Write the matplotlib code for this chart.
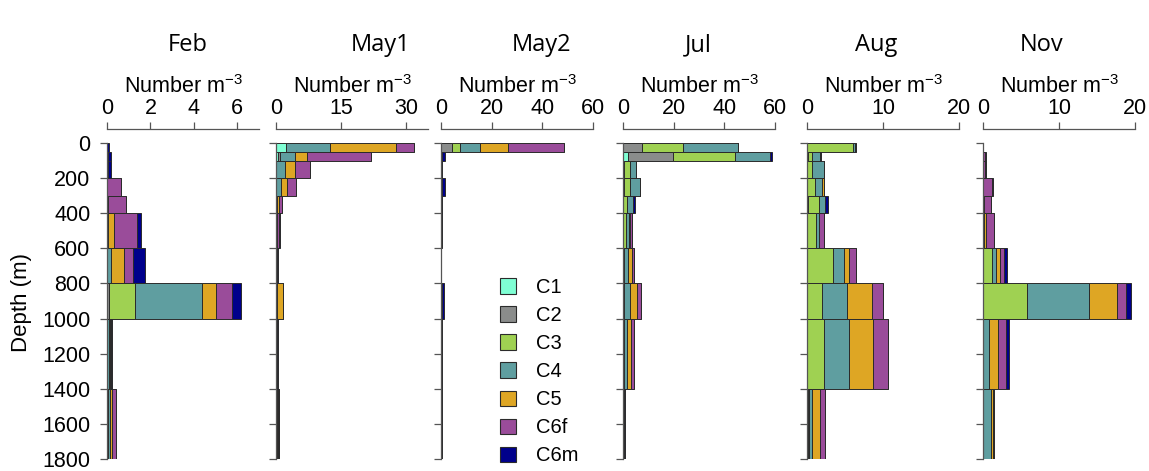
import matplotlib.pyplot as plt
import numpy as np
from matplotlib.patches import Patch

plt.rcParams["font.family"] = ["Liberation Sans", "DejaVu Sans"]
plt.rcParams["mathtext.fontset"] = "custom"
plt.rcParams["mathtext.rm"] = "Liberation Sans"
plt.rcParams["mathtext.it"] = "Liberation Sans:italic"

depth_edges = [0, 50, 100, 200, 300, 400, 600, 800, 1000, 1400, 1800]
stages = ["C1", "C2", "C3", "C4", "C5", "C6f", "C6m"]
stage_colors = ["#7fffd4", "#8a8c8b", "#9fd152", "#5f9ea0", "#dea624", "#9a4c9a", "#00008b"]
months = ["Feb", "May1", "May2", "Jul", "Aug", "Nov"]
x_limits = [7, 35, 60, 60, 20, 20]
x_ticks = [[0, 2, 4, 6], [0, 15, 30], [0, 20, 40, 60], [0, 20, 40, 60], [0, 10, 20], [0, 10, 20]]

# rows: depth bins (top to bottom), columns: C1, C2, C3, C4, C5, C6f, C6m
feb = [
    [0, 0, 0, 0, 0, 0.02, 0.05],
    [0, 0, 0, 0, 0, 0.05, 0.13],
    [0, 0, 0, 0, 0, 0.05, 0.15],
    [0, 0, 0, 0.02, 0, 0.62, 0],
    [0, 0, 0, 0.05, 0, 0.82, 0],
    [0, 0, 0, 0.05, 0.25, 1.07, 0.2],
    [0, 0, 0, 0.2, 0.57, 0.41, 0.58],
    [0, 0.1, 1.19, 3.09, 0.64, 0.72, 0.43],
    [0, 0, 0, 0.08, 0.05, 0.07, 0.03],
    [0, 0, 0.03, 0.12, 0.08, 0.18, 0],
]
may1 = [
    [2.3, 0, 0, 10.2, 15.2, 4.15, 0],
    [0.5, 0.4, 0, 3.5, 2.7, 14.7, 0],
    [0, 0, 0, 2.1, 2.3, 3.4, 0],
    [0, 0, 0, 1.15, 1.45, 2.0, 0],
    [0, 0, 0, 0.2, 0.4, 0.7, 0],
    [0, 0, 0, 0, 0.2, 0.5, 0.3],
    [0, 0, 0, 0, 0, 0.2, 0.3],
    [0, 0, 0, 0.3, 1.3, 0.05, 0],
    [0, 0, 0, 0, 0.1, 0.2, 0.15],
    [0, 0, 0, 0.2, 0.3, 0.2, 0],
]
may2 = [
    [0, 4.2, 3.3, 7.9, 11.2, 21.9, 0],
    [0, 0, 0, 0, 0, 0.3, 1.2],
    [0, 0, 0, 0, 0, 0.1, 0.2],
    [0, 0, 0, 0, 0, 0.3, 1.2],
    [0, 0, 0, 0, 0, 0.1, 0.2],
    [0, 0, 0, 0, 0, 0.1, 0.15],
    [0, 0, 0, 0, 0, 0.05, 0.1],
    [0, 0, 0, 0, 0, 0.2, 1.0],
    [0, 0, 0, 0, 0, 0.1, 0.2],
    [0, 0, 0, 0, 0, 0.05, 0.15],
]
jul = [
    [0, 7.4, 16.1, 22.0, 0, 0, 0],
    [2.0, 17.9, 24.3, 13.7, 0, 0.3, 0.5],
    [0, 0.3, 2.3, 2.4, 0, 0, 0],
    [0, 0.3, 2.6, 3.7, 0, 0, 0],
    [0, 0.1, 1.6, 2.2, 0, 0, 0.8],
    [0, 0, 1.1, 1.3, 0.5, 0.8, 0],
    [0, 0, 0.2, 1.8, 1.45, 0.8, 0],
    [0, 0, 0.4, 2.4, 2.9, 1.3, 0],
    [0, 0, 0.2, 1.2, 1.8, 1.3, 0],
    [0, 0, 0, 0, 0, 0.2, 0.6],
]
aug = [
    [0, 0, 6.05, 0.3, 0, 0.15, 0],
    [0, 0.1, 0.6, 1.05, 0, 0, 0.15],
    [0, 0, 0.65, 1.6, 0, 0, 0],
    [0, 0, 1.0, 1.0, 0.3, 0, 0],
    [0, 0.1, 1.5, 0.75, 0, 0, 0.35],
    [0, 0, 1.15, 0.45, 0, 0.65, 0],
    [0, 0, 3.4, 1.45, 0.65, 0.95, 0],
    [0, 0, 2.0, 3.3, 3.2, 1.45, 0],
    [0, 0, 2.25, 3.25, 3.2, 1.95, 0],
    [0, 0.1, 0.1, 0.4, 1.1, 0.65, 0],
]
nov = [
    [0, 0, 0, 0, 0, 0, 0],
    [0, 0, 0, 0, 0, 0.3, 0.05],
    [0, 0, 0, 0, 0, 0.3, 0.05],
    [0, 0, 0, 0, 0, 1.2, 0.1],
    [0, 0, 0, 0, 0.1, 0.95, 0],
    [0, 0, 0, 0.1, 0.35, 1.0, 0],
    [0, 0, 1.2, 0.5, 0.5, 0.5, 0.4],
    [0, 0, 5.8, 8.1, 3.7, 1.25, 0.65],
    [0, 0, 0, 0.8, 1.2, 1.05, 0.35],
    [0, 0, 0, 1.0, 0.3, 0.2, 0],
]
panel_data = [feb, may1, may2, jul, aug, nov]

# layout in pixels of the 1149x471 figure
W, H = 1149, 471
panel_left = [107, 276, 441, 623, 807, 983]
panel_width = 152
depth_top, depth_bottom = 143, 459
title_x = [188, 381, 542, 698, 876, 1042]

fig = plt.figure(figsize=(W / 100, H / 100), dpi=100)

tops = np.array(depth_edges[:-1])
heights = np.diff(depth_edges)

for i, (month, data) in enumerate(zip(months, panel_data)):
    ax = fig.add_axes([panel_left[i] / W, 1 - depth_bottom / H,
                       panel_width / W, (depth_bottom - depth_top) / H])
    values = np.array(data, dtype=float)
    left = np.zeros(len(tops))
    for j, stage in enumerate(stages):
        ax.barh(tops, values[:, j], height=heights, left=left, align="edge",
                color=stage_colors[j], edgecolor="#2b2b2b", linewidth=0.7)
        left += values[:, j]

    ax.set_xlim(0, x_limits[i])
    ax.set_ylim(1800, 0)
    ax.xaxis.tick_top()
    ax.xaxis.set_label_position("top")
    ax.set_xticks(x_ticks[i])
    ax.set_yticks(range(0, 1801, 200))
    ax.spines["right"].set_visible(False)
    ax.spines["bottom"].set_visible(False)
    ax.spines["top"].set_position(("outward", 10))
    for side in ("top", "left"):
        ax.spines[side].set_color("#555555")
        ax.spines[side].set_linewidth(0.9)
    ax.tick_params(axis="both", direction="out", length=5, width=0.9,
                   color="#555555", labelsize=15.5)
    ax.tick_params(axis="x", pad=2)
    ax.tick_params(axis="y", pad=7)
    ax.set_xlabel("Number m$^{-3}$", fontsize=15.5, labelpad=4)
    if i > 0:
        ax.set_yticklabels([])

    fig.text(title_x[i] / W, 1 - 45 / H, month, ha="center", va="center",
             fontsize=17, family=["Open Sans", "DejaVu Sans"])

fig.text(22 / W, 1 - 302 / H, "Depth (m)", rotation=90, ha="center", va="center",
         fontsize=16)

handles = [Patch(facecolor=c, edgecolor="#2b2b2b", linewidth=0.8) for c in stage_colors]
fig.legend(handles, stages, loc="upper left", bbox_to_anchor=(500 / W, 1 - 278 / H),
           frameon=False, fontsize=14.5, handlelength=0.8, handleheight=0.8,
           handletextpad=1.0, labelspacing=0.45, borderpad=0, borderaxespad=0)

fig.savefig("out.png", dpi=100)
